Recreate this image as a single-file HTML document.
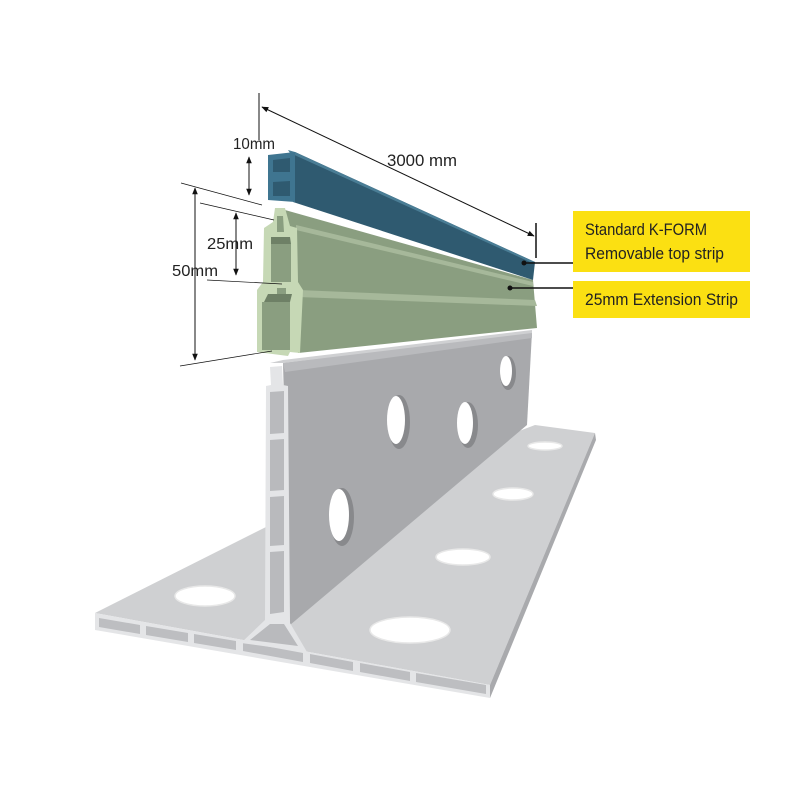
<!DOCTYPE html>
<html><head><meta charset="utf-8"><style>
html,body{margin:0;padding:0;background:#fff;width:800px;height:800px;overflow:hidden}
svg{display:block}
text{font-family:"Liberation Sans",sans-serif;fill:#222}
</style></head><body>
<svg width="800" height="800" viewBox="0 0 800 800" xmlns="http://www.w3.org/2000/svg">
<defs>
<marker id="ah" viewBox="0 0 10 10" refX="9" refY="5" markerWidth="7" markerHeight="7" orient="auto-start-reverse"><path d="M0,1 L10,5 L0,9 z" fill="#111"/></marker>
</defs>
<polygon points="95,613 270,525 535,425 595,433 490,685" fill="#cfd0d2"/>
<polygon points="490,685 595,433 596,440 490,698" fill="#a9aaad"/>
<polygon points="95,613 490,685 490,698 95,630" fill="#e4e5e7"/>
<g fill="#bdbec1">
<polygon points="99,618 140,625 140,634 99,627"/>
<polygon points="146,626 188,633 188,642 146,635"/>
<polygon points="194,634 236,641 236,650 194,643"/>
<polygon points="243,642 303,653 303,662 243,651"/>
<polygon points="310,654 353,662 353,671 310,663"/>
<polygon points="360,663 410,672 410,681 360,672"/>
<polygon points="416,673 486,685 486,694 416,682"/>
</g>
<ellipse cx="205" cy="596" rx="30" ry="10" fill="#fff" stroke="#e8e8e8" stroke-width="1.5"/>
<ellipse cx="410" cy="630" rx="40" ry="13" fill="#fff" stroke="#e8e8e8" stroke-width="1.5"/>
<ellipse cx="463" cy="557" rx="27" ry="8" fill="#fff" stroke="#e8e8e8" stroke-width="1.5"/>
<ellipse cx="513" cy="494" rx="20" ry="6" fill="#fff" stroke="#e8e8e8" stroke-width="1.5"/>
<ellipse cx="545" cy="446" rx="17" ry="4" fill="#fff" stroke="#e8e8e8" stroke-width="1.5"/>
<polygon points="283,363 532,332 527,425 290,625" fill="#a8a9ac"/>
<polygon points="283,363 532,332 532,338 285,372" fill="#b9babd"/>
<polygon points="270,363 283,360 532,330 532,333 283,363" fill="#cfd0d2"/>
<g>
<ellipse cx="399" cy="422" rx="11" ry="27" fill="#88898c"/><ellipse cx="396" cy="420" rx="9" ry="24" fill="#fff"/>
<ellipse cx="468" cy="425" rx="10" ry="23" fill="#88898c"/><ellipse cx="465" cy="423" rx="8" ry="21" fill="#fff"/>
<ellipse cx="508" cy="373" rx="8" ry="17" fill="#88898c"/><ellipse cx="506" cy="371" rx="6" ry="15" fill="#fff"/>
<ellipse cx="342" cy="517" rx="12" ry="29" fill="#88898c"/><ellipse cx="339" cy="515" rx="10" ry="26" fill="#fff"/>
</g>
<polygon points="270,367 282,366 283,385 288,386 290,623 307,652 241,643 265,620 266,386 271,385" fill="#e4e5e7"/>
<g fill="#b9babd">
<polygon points="270,392 284,391 284,433 270,434"/>
<polygon points="270,440 284,439 284,490 270,491"/>
<polygon points="270,497 284,496 284,545 270,546"/>
<polygon points="270,552 284,551 284,612 270,614"/>
<polygon points="270,624 284,624 298,646 250,640"/>
</g>
<polygon points="285,210 533,280 537,328 298,353" fill="#8a9e80"/>
<polygon points="298,290 535,300 537,306 298,297" fill="#a6b89a"/>
<polygon points="296,225 533,282 533,286 296,230" fill="#a6b89a"/>
<polygon points="275,208 285,208 290,226 297,228 298,282 303,290 300,353 290,352 288,356 257,352 257,290 263,282 264,228 273,222" fill="#c6d8b5"/>
<g fill="#8a9e80">
<polygon points="277,216 283,216 284,232 277,232"/>
<polygon points="271,244 291,244 291,282 271,282"/>
<polygon points="277,288 286,288 286,294 277,294"/>
<polygon points="262,302 290,302 290,350 262,350"/>
</g>
<polygon points="271,237 290,237 291,244 271,244" fill="#6e8066"/>
<polygon points="268,294 292,294 290,302 264,302" fill="#6e8066"/>
<polygon points="295,152 535,262 533,280 293,202" fill="#2f5a70"/>
<polygon points="288,150 295,152 535,262 530,262 290,153" fill="#4a7d95"/>
<polygon points="268,155 295,152 295,202 268,200" fill="#3f7590"/>
<g fill="#2f5a70">
<polygon points="273,160 290,158 290,172 273,172"/>
<polygon points="273,182 290,181 290,196 273,196"/>
</g>
<g stroke="#111" stroke-width="1" fill="none">
<line x1="259" y1="93" x2="259" y2="140"/>
<line x1="262" y1="107" x2="534" y2="236" marker-start="url(#ah)" marker-end="url(#ah)"/>
<line x1="536" y1="223" x2="536" y2="258" stroke-width="1.5"/>
<line x1="249" y1="157" x2="249" y2="195" marker-start="url(#ah)" marker-end="url(#ah)"/>
<line x1="195" y1="188" x2="195" y2="360" marker-start="url(#ah)" marker-end="url(#ah)"/>
<line x1="236" y1="213" x2="236" y2="275" marker-start="url(#ah)" marker-end="url(#ah)"/>
<line x1="181" y1="183" x2="262" y2="205" stroke-width="0.7"/>
<line x1="200" y1="203" x2="274" y2="220" stroke-width="0.7"/>
<line x1="207" y1="280" x2="282" y2="284" stroke-width="0.7"/>
<line x1="180" y1="366" x2="272" y2="351" stroke-width="0.7"/>
<line x1="524" y1="263" x2="573" y2="263" stroke-width="1.5"/>
<line x1="510" y1="288" x2="573" y2="288" stroke-width="1.5"/>
</g>
<circle cx="524" cy="263" r="2.5" fill="#111"/>
<circle cx="510" cy="288" r="2.5" fill="#111"/>
<text x="233" y="149" font-size="16" textLength="42" lengthAdjust="spacingAndGlyphs">10mm</text>
<text x="387" y="166" font-size="17" textLength="70" lengthAdjust="spacingAndGlyphs">3000 mm</text>
<text x="207" y="249" font-size="16" textLength="46" lengthAdjust="spacingAndGlyphs">25mm</text>
<text x="172" y="276" font-size="16" textLength="46" lengthAdjust="spacingAndGlyphs">50mm</text>
<rect x="573" y="211" width="177" height="61" fill="#fbe012"/>
<rect x="573" y="281" width="177" height="37" fill="#fbe012"/>
<text x="585" y="235" font-size="17" textLength="122" lengthAdjust="spacingAndGlyphs">Standard K-FORM</text>
<text x="585" y="259" font-size="17" textLength="139" lengthAdjust="spacingAndGlyphs">Removable top strip</text>
<text x="585" y="305" font-size="17" textLength="153" lengthAdjust="spacingAndGlyphs">25mm Extension Strip</text>
</svg>
</body></html>
